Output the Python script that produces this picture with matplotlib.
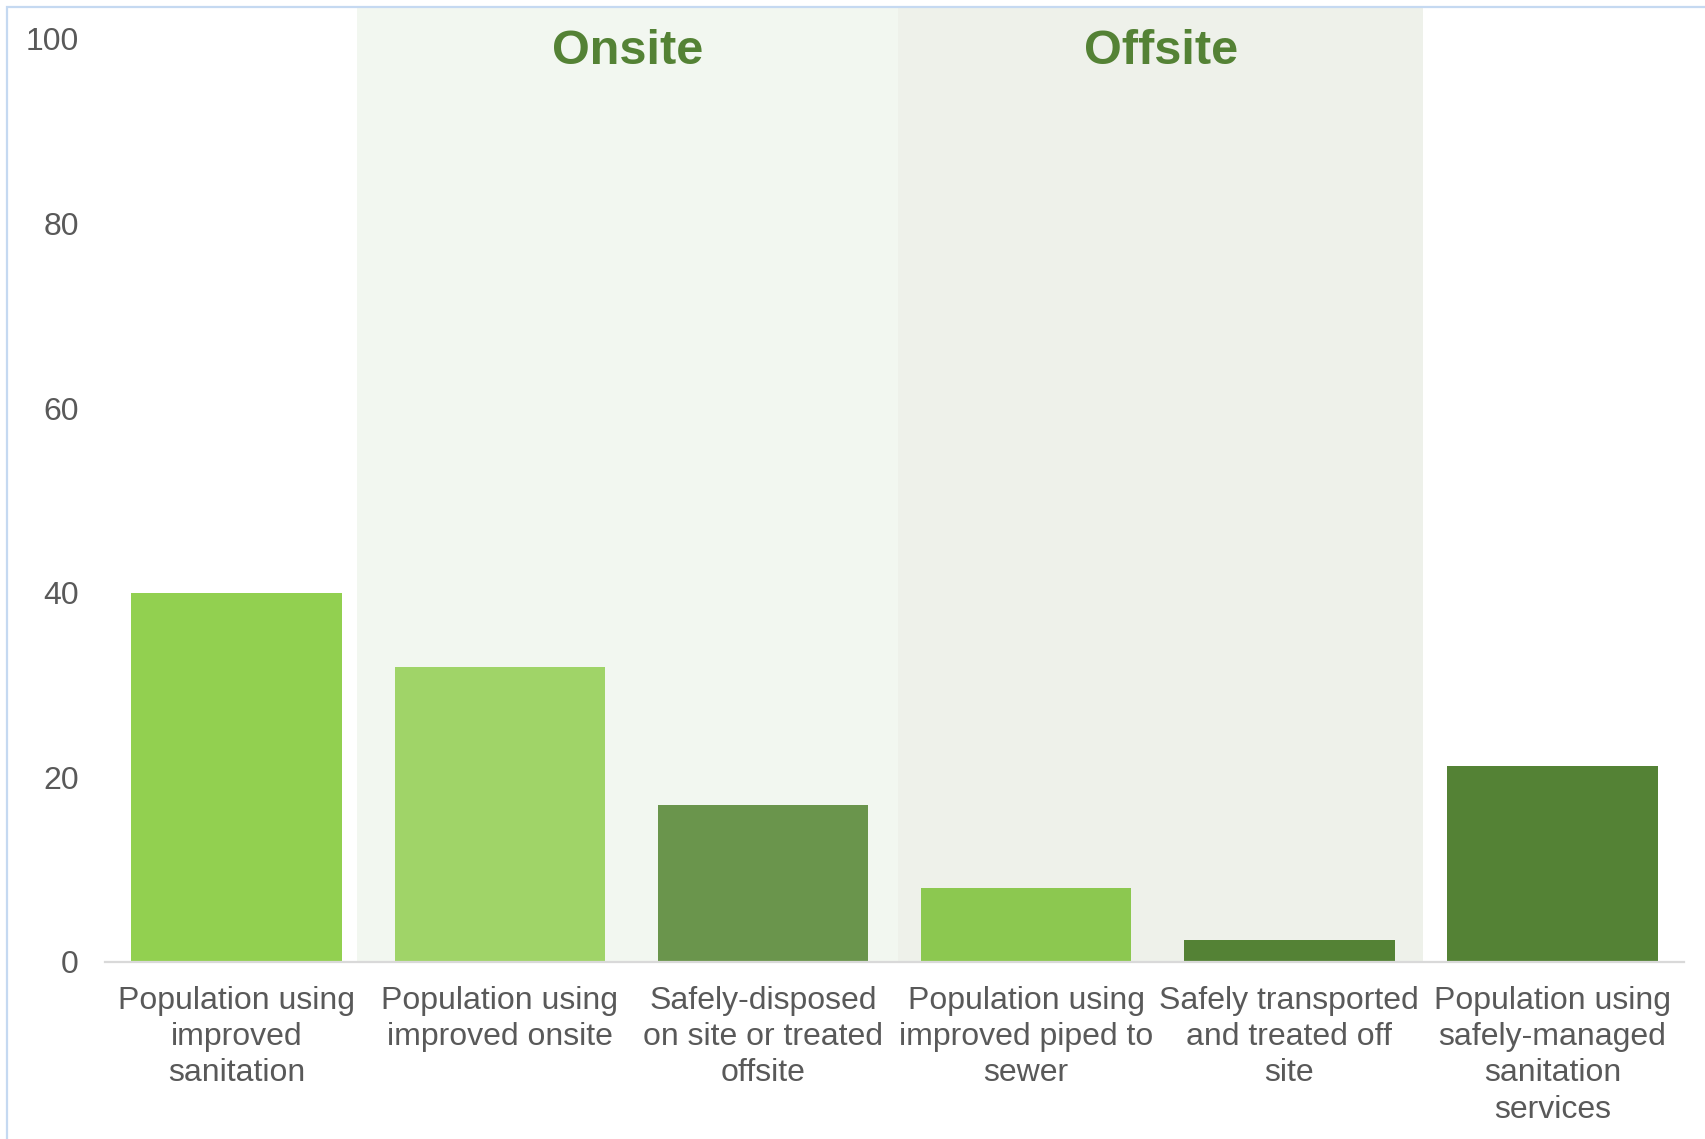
import numpy as np
import matplotlib.pyplot as plt
from matplotlib.patches import Rectangle

# chart data
categories = ['Population using\nimproved\nsanitation',
              'Population using\nimproved onsite',
              'Safely-disposed\non site or treated\noffsite',
              'Population using\nimproved piped to\nsewer',
              'Safely transported\nand treated off\nsite',
              'Population using\nsafely-managed\nsanitation\nservices']
values = [40.0, 32.0, 17.0, 8.0, 2.4, 21.2]
bar_colors = ['#92d050', '#a0d468', '#6a954c', '#8cc850', '#548235', '#548235']
yticks = [0, 20, 40, 60, 80, 100]

# shaded groups: (label, start, end) in category units
groups = [('Onsite', 0.458, 2.515, '#f2f7f0'),
          ('Offsite', 2.515, 4.508, '#eef1ea')]

plt.rcParams['font.family'] = ['Liberation Sans', 'DejaVu Sans']

fig = plt.figure(figsize=(17.05, 11.39), dpi=100)
ax = fig.add_axes([0.0616, 0.1554, 0.9261, 0.8385])

x = np.arange(len(categories))
for name, start, end, col in groups:
    ax.axvspan(start, end, color=col, zorder=0, lw=0)
    ax.text((start + end) / 2, 0.953, name, transform=ax.get_xaxis_transform(),
            ha='center', va='center', fontsize=35, fontweight='bold', color='#548235')

ax.bar(x, values, width=0.8, color=bar_colors, zorder=2)

ax.set_xlim(-0.5, len(categories) - 0.5)
ax.set_ylim(0, 103.47)
ax.set_yticks(yticks)
ax.set_xticks(x)
ax.set_xticklabels(categories, fontsize=23, color='#595959', linespacing=1.28)
ax.tick_params(axis='y', length=0, pad=19, labelsize=23, labelcolor='#595959')
ax.tick_params(axis='x', length=0, pad=17)

for s in ['top', 'right', 'left']:
    ax.spines[s].set_visible(False)
ax.spines['bottom'].set_color('#d9d9d9')
ax.spines['bottom'].set_linewidth(1.6)
ax.spines['bottom'].set_zorder(3)

# light blue chart frame
fig.patches.append(Rectangle((7 / 1705, -0.01), 1.02, 1 - 7 / 1139 + 0.01,
                             transform=fig.transFigure, fill=False,
                             edgecolor='#c5d9f1', lw=1.6))

fig.savefig('out.png', dpi=100)
